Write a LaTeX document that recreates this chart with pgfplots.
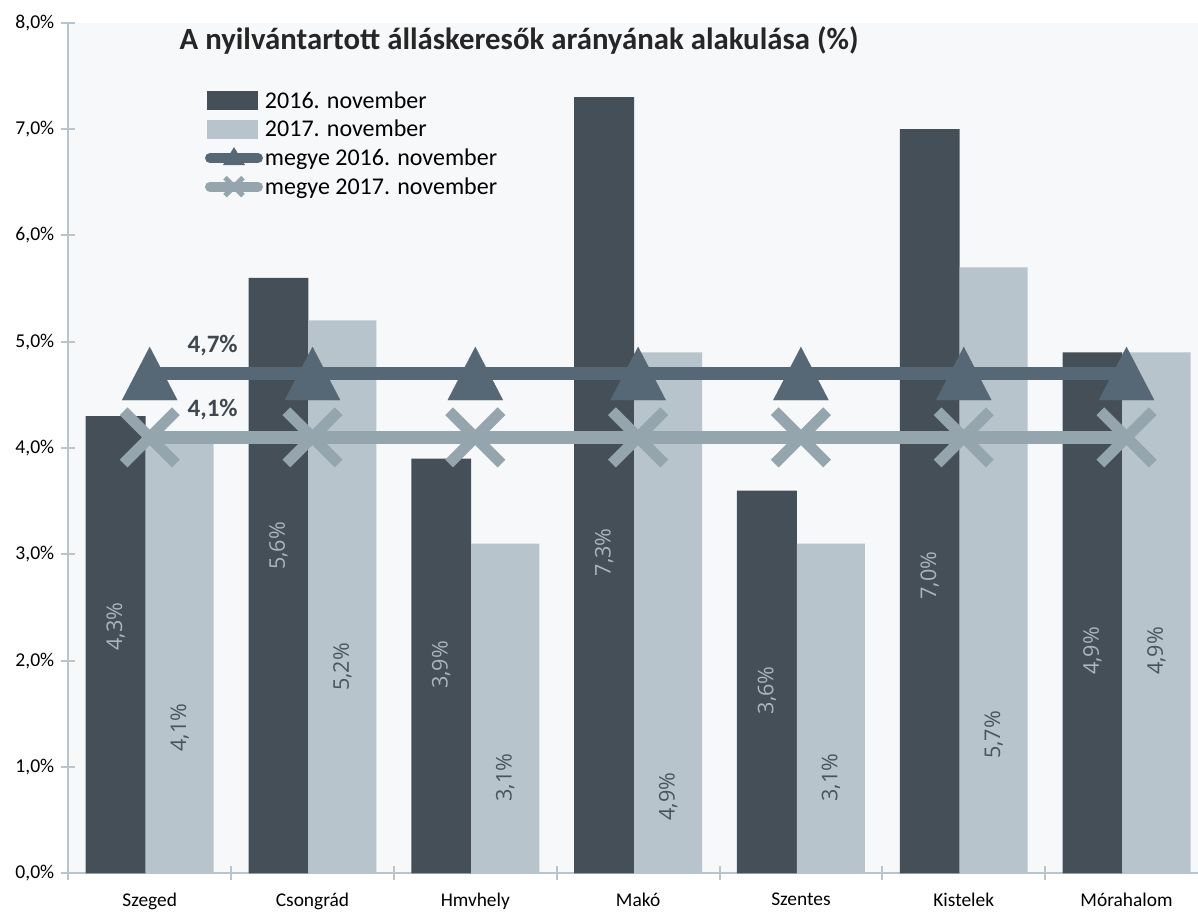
\documentclass[border=0pt]{standalone}
\usepackage{fontspec}
\setmainfont{Carlito}
\newfontfamily\lblfont{Open Sans}
\usepackage{pgfplots}
\pgfplotsset{compat=1.18}
\definecolor{darkbar}{HTML}{454F57}
\definecolor{lightbar}{HTML}{B7C4CC}
\definecolor{line1c}{HTML}{566875}
\definecolor{line2c}{HTML}{94A5AD}
\definecolor{axisc}{HTML}{B9C5CD}
\definecolor{bgc}{HTML}{F7F8FA}
\definecolor{darklbl}{HTML}{A9B6BE}
\definecolor{lightlbl}{HTML}{4A545C}
\definecolor{boldlbl}{HTML}{3D4850}
\definecolor{titlec}{HTML}{262626}
\begin{document}
\begin{tikzpicture}
\begin{axis}[
  scale only axis,
  width=564.85pt, height=425.3pt,
  xmin=-0.5, xmax=6.439,
  ymin=0, ymax=8,
  axis x line*=bottom, axis y line*=left,
  axis line style={draw=axisc, line width=1pt, -},
  axis background/.style={fill=bgc},
  tick align=center,
  major tick length=7pt,
  tick style={draw=axisc, line width=1pt},
  ytick={0,1,...,8},
  /pgf/number format/assume math mode=true,
  yticklabel={\pgfmathprintnumber[fixed,fixed zerofill,precision=1,use comma]{\tick}\%},
  yticklabel style={font=\fontsize{9.8}{11}\selectfont, text=black},
  xtick={-0.5,0.5,...,5.5},
  xticklabels={},
  extra x ticks={0,1,2,3,4,5,6},
  extra x tick labels={Szeged,Csongrád,Hmvhely,Makó,Szentes,Kistelek,Mórahalom},
  extra x tick style={major tick length=0pt, tick style={draw=none}},
  xticklabel style={font=\fontsize{9.7}{11}\selectfont, text=black, yshift=-6.5pt},
  title={A nyilvántartott álláskeresők arányának alakulása (\%)},
  title style={at={(0.399,0.965)}, anchor=center, yshift=0pt, font=\bfseries\fontsize{15.4}{17}\selectfont, text=titlec},
  legend style={at={(0.121,0.924)}, anchor=north west, draw=none, fill=none,
    inner sep=0pt, outer sep=0pt, row sep=0.8pt, column sep=0pt,
    font=\fontsize{12}{14}\selectfont,
    nodes={inner xsep=1pt, inner ysep=0pt, text height=10.5pt, text depth=3pt}},
  legend cell align=left,
]
\addplot[ybar, bar width=0.368, bar shift=-0.209, fill=darkbar, draw=none,
  legend image code/.code={\path[fill=darkbar, draw=none] (1pt,-4.75pt) rectangle (26.5pt,4.75pt);}]
  coordinates {(0,4.3) (1,5.6) (2,3.9) (3,7.3) (4,3.6) (5,7.0) (6,4.9)};
\addplot[ybar, bar width=0.418, bar shift=0.184, fill=lightbar, draw=none,
  legend image code/.code={\path[fill=lightbar, draw=none] (1pt,-4.75pt) rectangle (26.5pt,4.75pt);}]
  coordinates {(0,4.1) (1,5.2) (2,3.1) (3,4.9) (4,3.1) (5,5.7) (6,4.9)};
% county line 2016
\addplot[line1c, line width=6.5pt, mark=none,
  legend image code/.code={
    \path[draw=line1c, line width=5pt, line cap=round] (2.5pt,0pt) -- (26.5pt,0pt);
    \path[fill=line1c, draw=none] (9pt,-3.5pt) -- (14.5pt,5.5pt) -- (20pt,-3.5pt) -- cycle;}]
  coordinates {(0,4.7) (1,4.7) (2,4.7) (3,4.7) (4,4.7) (5,4.7) (6,4.7)};
\addplot[forget plot, only marks, color=line1c, mark=triangle*, mark size=17.7pt,
  mark options={solid, fill=line1c, draw=line1c, line width=0.1pt, yshift=-4.4pt, xscale=0.9}]
  coordinates {(0,4.7) (1,4.7) (2,4.7) (3,4.7) (4,4.7) (5,4.7) (6,4.7)};
% county line 2017
\addplot[line2c, line width=6.5pt, mark=none,
  legend image code/.code={
    \path[draw=line2c, line width=5pt, line cap=round] (2.5pt,0pt) -- (26.5pt,0pt);
    \path[draw=line2c, line width=2.5pt] (10pt,-4.5pt) -- (19pt,4.5pt) (10pt,4.5pt) -- (19pt,-4.5pt);}]
  coordinates {(0,4.1) (1,4.1) (2,4.1) (3,4.1) (4,4.1) (5,4.1) (6,4.1)};
\addplot[forget plot, only marks, color=line2c, mark=x, mark size=18.5pt,
  mark options={solid, draw=line2c, line width=5.5pt}]
  coordinates {(0,4.1) (1,4.1) (2,4.1) (3,4.1) (4,4.1) (5,4.1) (6,4.1)};
% labels in dark bars
\addplot[forget plot, only marks, mark=none, nodes near coords, point meta=explicit symbolic,
  every node near coord/.style={rotate=90, anchor=center, inner sep=0pt, text=darklbl, font=\lblfont\fontsize{10.8}{12}\selectfont}]
  coordinates {(-0.209,2.32)[4,3\%] (0.791,3.08)[5,6\%] (1.791,1.96)[3,9\%] (2.791,3.02)[7,3\%] (3.791,1.72)[3,6\%] (4.791,2.80)[7,0\%] (5.791,2.09)[4,9\%]};
% labels in light bars
\addplot[forget plot, only marks, mark=none, nodes near coords, point meta=explicit symbolic,
  every node near coord/.style={rotate=90, anchor=center, inner sep=0pt, text=lightlbl, font=\lblfont\fontsize{10.8}{12}\selectfont}]
  coordinates {(0.184,1.37)[4,1\%] (1.184,1.94)[5,2\%] (2.184,0.90)[3,1\%] (3.184,0.72)[4,9\%] (4.184,0.90)[3,1\%] (5.184,1.30)[5,7\%] (6.184,2.09)[4,9\%]};
% county labels
\addplot[forget plot, only marks, mark=none, nodes near coords, point meta=explicit symbolic,
  every node near coord/.style={anchor=center, inner sep=0pt, xshift=31.5pt, yshift=14pt, text=boldlbl, font=\bfseries\fontsize{12.5}{14}\selectfont}]
  coordinates {(0,4.7)[4,7\%] (0,4.1)[4,1\%]};
\legend{2016. november, 2017. november, megye 2016. november, megye 2017. november}
\end{axis}
\pgfresetboundingbox
\path[use as bounding box] ([shift={(-34.15pt,-18.85pt)}]current axis.south west) rectangle ++(599pt,455.5pt);
\end{tikzpicture}
\end{document}
